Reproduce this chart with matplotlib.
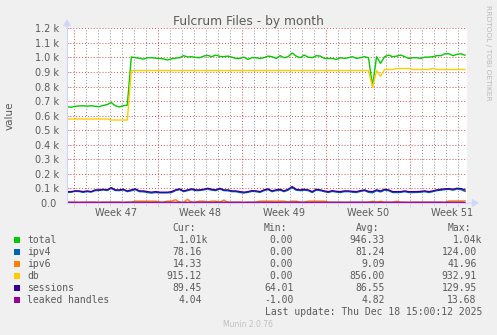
import numpy as np
import matplotlib
matplotlib.use('Agg')
import matplotlib.pyplot as plt
from matplotlib.patches import Rectangle

# data, one sample every ~8 hours
total = [662, 658, 664, 666, 668, 665, 668, 664, 662, 670,
         676, 690, 668, 660, 668, 672,
         1003, 998, 995, 988, 998, 998, 995, 993, 990, 982, 990, 995, 998, 1012, 1003, 1005, 1000,
         998, 1009, 1014, 1005, 1016, 1007, 1005, 1009, 1002, 993, 993, 1002, 986, 998, 998, 993,
         998, 1009, 1005, 993, 1012, 998, 1005, 1030, 1009, 998, 1016, 1002, 998, 1012, 1009, 993, 993,
         993, 986, 998, 993, 998, 1005, 993, 998, 1005, 998, 802, 1005, 959, 1005, 1016, 1005, 1009,
         1016, 1005, 993, 998, 998, 993, 1002, 1002, 1005, 1012, 1012, 1025, 1025, 1012, 1021, 1025, 1015]
ipv4 = [72, 74, 80, 79, 73, 78, 75, 85, 86, 90, 86, 100, 86, 85, 90, 78, 84, 92, 78, 77,
        72, 68, 72, 70, 69, 70, 72, 85, 92, 78, 85, 92, 85, 86, 90, 96, 88, 85, 96, 85,
        84, 78, 78, 72, 69, 73, 80, 78, 73, 85, 92, 78, 85, 88, 78, 88, 106, 88, 85, 88,
        85, 72, 88, 85, 78, 72, 80, 75, 72, 78, 78, 74, 72, 80, 85, 74, 70, 84, 76, 88,
        85, 72, 72, 73, 78, 72, 72, 73, 74, 78, 72, 78, 85, 88, 92, 94, 88, 96, 92, 80]
ipv6 = [5, 5, 5, 5, 5, 5, 5, 5, 5, 5, 5, 5, 5, 5, 5, 5, 5, 13, 13, 13,
        13, 13, 13, 5, 5, 13, 13, 22, 5, 5, 25, 5, 5, 13, 13, 5, 13, 13, 5, 20,
        5, 5, 5, 5, 5, 5, 5, 5, 13, 13, 13, 13, 13, 13, 13, 5, 13, 13, 5, 5,
        13, 13, 13, 13, 13, 5, 5, 5, 5, 5, 5, 5, 5, 5, 5, 5, 12, 5, 12, 5,
        5, 5, 12, 5, 5, 5, 5, 5, 5, 5, 5, 5, 5, 5, 5, 14, 14, 14, 14, 14]
db = ([577] * 11 + [570] * 5 + [910] * 60 + [795, 910, 871] + [917] * 3 + [924] * 4
      + [917] * 5 + [924] + [917] * 8)
sessions = [78, 78, 83, 83, 78, 83, 78, 90, 90, 94, 90, 106, 90, 90, 94, 83, 90, 97, 83, 83,
            78, 74, 78, 74, 74, 74, 78, 90, 97, 83, 90, 97, 90, 90, 94, 101, 94, 90, 101, 90,
            90, 83, 83, 78, 74, 78, 85, 83, 78, 90, 97, 83, 90, 94, 83, 94, 113, 94, 90, 94,
            90, 78, 94, 90, 83, 78, 85, 80, 78, 83, 83, 80, 78, 85, 90, 80, 78, 90, 83, 94,
            90, 78, 78, 78, 83, 78, 78, 78, 80, 83, 78, 83, 90, 94, 97, 99, 94, 101, 99, 90]
leaked = [5, 5, 5, 4, 5, 5, 5, 5, 4, 5, 5, 5, 5, 5, 4, 5, 5, 5, 5, 5,
          5, 4, 5, 5, 5, 5, 5, 5, 5, 4, 5, 5, 5, 5, 5, 5, 4, 5, 5, 5,
          5, 5, 5, 5, 4, 5, 5, 5, 5, 5, 5, 5, 4, 5, 5, 5, 5, 5, 5, 5,
          4, 5, 5, 5, 5, 5, 5, 5, 5, 4, 5, 5, 5, 5, 5, 5, 5, 5, 4, 5,
          5, 5, 5, 5, 5, 4, 5, 5, 5, 5, 5, 5, 5, 5, 4, 5, 5, 5, 5, 4]

names = ['total', 'ipv4', 'ipv6', 'db', 'sessions', 'leaked handles']
colors = ['#00CC00', '#0066B3', '#FF8000', '#FFCC00', '#330099', '#990099']
cur = ['1.01k', '78.16', '14.33', '915.12', '89.45', '4.04']
mins = ['0.00', '0.00', '0.00', '0.00', '64.01', '-1.00']
avgs = ['946.33', '81.24', '9.09', '856.00', '86.55', '4.82']
maxs = ['1.04k', '124.00', '41.96', '932.91', '129.95', '13.68']
week_labels = ['Week 47', 'Week 48', 'Week 49', 'Week 50', 'Week 51']
ylabels = ['0.0 ', '0.1 k', '0.2 k', '0.3 k', '0.4 k', '0.5 k', '0.6 k',
           '0.7 k', '0.8 k', '0.9 k', '1.0 k', '1.1 k', '1.2 k']

W, H = 497, 335
span = 400 / 12          # 400 px, 2 hours per px, in days
day0 = 7 / 12            # first week boundary
t = np.linspace(0, 398 / 12, len(total))

font_col = '#5a5a5a'
axis_col = '#CFD6F8'
grid_col = (0.56, 0.56, 0.56, 0.32)
mgrid_col = (0.87, 0.31, 0.31, 0.38)

def fx(x):
    return x / W

def fy(y):
    return 1 - y / H

fig = plt.figure(figsize=(W / 100, H / 100), dpi=100, facecolor='#F0F0F0')
ax = fig.add_axes([fx(67), fy(203), 400 / W, 174.7 / H])
ax.set_facecolor('white')

for vals, c in zip([total, ipv4, ipv6, db, sessions, leaked], colors):
    ax.plot(t, vals, color=c, lw=1.0)

ax.set_xlim(0, span)
ax.set_ylim(0, 1200)

# axes
for s in ['top', 'right']:
    ax.spines[s].set_visible(False)
for s in ['left', 'bottom']:
    ax.spines[s].set_color(axis_col)
    ax.spines[s].set_linewidth(0.8)
ax.annotate('', xy=(1.03, 0), xytext=(1.0, 0), xycoords='axes fraction',
            arrowprops=dict(arrowstyle='-|>,head_length=0.5,head_width=0.3', color=axis_col,
                            lw=0.8, shrinkA=0, shrinkB=0, mutation_scale=8), annotation_clip=False)
ax.annotate('', xy=(0, 1.052), xytext=(0, 1.0), xycoords='axes fraction',
            arrowprops=dict(arrowstyle='-|>,head_length=0.5,head_width=0.3', color=axis_col,
                            lw=0.8, shrinkA=0, shrinkB=0, mutation_scale=8), annotation_clip=False)

# ticks and grid
ax.set_yticks(np.arange(0, 1201, 100))
ax.set_yticklabels(ylabels)
ax.set_xticks(np.arange(day0 + 3.5, span, 7))
ax.set_xticklabels(week_labels)
ax.set_xticks(np.arange(day0, span, 1), minor=True)

ax.grid(which='minor', axis='x', color=grid_col, linestyle=(0, (1, 2)), lw=0.7)
ax.grid(which='major', axis='y', color=mgrid_col, linestyle=(0, (1, 2)), lw=0.7)
ax.tick_params(axis='x', which='major', length=0, pad=3.8, labelsize=7, labelcolor=font_col)
ax.tick_params(axis='x', which='minor', length=2, width=0.6, color=grid_col, direction='out')
ax.tick_params(axis='y', which='major', length=2, width=0.6, color=mgrid_col, direction='in',
               pad=5.5, labelsize=7, labelcolor=font_col)

for tk, loc in zip(ax.xaxis.get_minor_ticks(), ax.xaxis.get_minorticklocs()):
    if round(loc - day0) % 7 == 0:
        tk.tick1line.set_color(mgrid_col)
        tk.tick1line.set_markersize(3)
        tk.gridline.set_color(mgrid_col)

# texts
fig.text(fx(248), fy(24.5), 'Fulcrum Files - by month', ha='center', va='baseline',
         fontsize=8.8, color=font_col)
fig.text(fx(10), fy(115.7), 'value', rotation=90, ha='center', va='center',
         fontsize=7.5, color=font_col)
fig.text(fx(488), fy(5), 'RRDTOOL / TOBI OETIKER', rotation=270, ha='center', va='top',
         fontsize=5.4, color='#BBBBBB')

# legend block
mono = dict(family='DejaVu Sans Mono', fontsize=7, color=font_col, va='baseline')
cw = 5.86
col_right = [202, 293.3, 385, 476.7]
for h, xr in zip(['Cur:', 'Min:', 'Avg:', 'Max:'], col_right):
    fig.text(fx(xr - cw), fy(231), h, ha='right', **mono)
for k, name in enumerate(names):
    yb = 243 + 12 * k
    fig.patches.append(Rectangle((fx(14), fy(yb - 0.5)), 6 / W, 6 / H,
                                 transform=fig.transFigure, facecolor=colors[k],
                                 edgecolor='none'))
    fig.text(fx(27), fy(yb), name, ha='left', **mono)
    for vals, xr in zip([cur, mins, avgs, maxs], col_right):
        s = vals[k]
        fig.text(fx(xr + cw if s.endswith('k') else xr), fy(yb), s, ha='right', **mono)
fig.text(fx(482.7), fy(315), 'Last update: Thu Dec 18 15:00:12 2025', ha='right', **mono)
fig.text(fx(248), fy(327), 'Munin 2.0.76', ha='center', va='baseline', fontsize=5.5,
         color='#C0C0C0')

fig.savefig('out.png', dpi=100, facecolor=fig.get_facecolor())
